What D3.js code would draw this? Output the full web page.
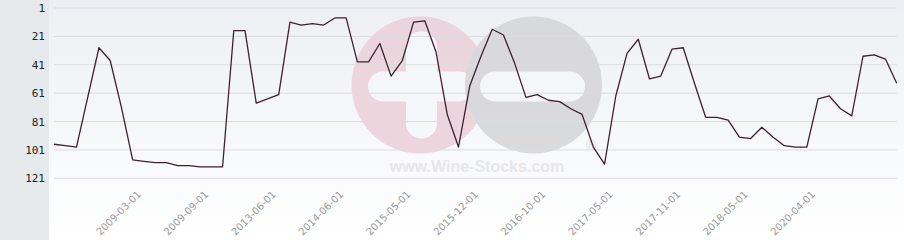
<!DOCTYPE html>
<html>
<head>
<meta charset="utf-8">
<script src="https://cdnjs.cloudflare.com/ajax/libs/d3/7.8.5/d3.min.js"></script>
<style>
    body { margin: 0; padding: 0; background: #ffffff; }
    #rank_chart_container { width: 904px; height: 240px; }
</style>
</head>
<body>
<div id="rank_chart_container"></div>
<script>

// rank of the wine, one value per point (1 = best)
var rank_values = [97, 98, 99, 64, 29, 38, 71, 108, 109, 110, 110, 112, 112, 113, 113, 113,
                   17, 17, 68, 65, 62, 11, 13, 12, 13, 8, 8, 39, 39, 26, 49, 38,
                   11, 10, 32, 76, 99, 56, 35, 16, 20, 40, 64, 62, 66, 67, 72, 76,
                   99, 111, 63, 33, 23, 51, 49, 30, 29, 54, 78, 78, 80, 92, 93, 85,
                   92, 98, 99, 99, 65, 63, 72, 77, 35, 34, 37, 54]

// labels shown on the x axis (one every 6 points, first one on point 7)
var x_tick_labels = ['2009-03-01', '2009-09-01', '2013-06-01', '2014-06-01', '2015-05-01', '2015-12-01',
                     '2016-10-01', '2017-05-01', '2017-11-01', '2018-05-01', '2020-04-01']
var first_labelled_point = 7
var label_step = 6

var y_ticks = [1, 21, 41, 61, 81, 101, 121]


function rank_chart_loader(values){

    var width = 904,
        height = 240,
        panel_width = 49

    var svg = d3.select("#rank_chart_container")
                    .append("svg")
                    .attr("width", width)
                    .attr("height", height)

    var defs = svg.append("defs")
    var grad = defs.append("linearGradient")
                    .attr("id", "plot_bg")
                    .attr("x1", 0).attr("y1", 0)
                    .attr("x2", 0).attr("y2", 1)
    grad.append("stop").attr("offset", "0%").attr("stop-color", "#edeff4")
    grad.append("stop").attr("offset", "100%").attr("stop-color", "#ffffff")

    // left grey panel behind the y labels
    svg.append("rect")
        .attr("x", 0).attr("y", 0)
        .attr("width", panel_width).attr("height", height)
        .attr("fill", "#e7eaed")

    // plot background
    svg.append("rect")
        .attr("x", panel_width).attr("y", 0)
        .attr("width", width - panel_width).attr("height", height)
        .attr("fill", "url(#plot_bg)")

    // scales
    var x = d3.scalePoint()
                .domain(d3.range(values.length))
                .range([54, 896.7])

    var y = d3.scaleLinear()
                .domain([1, 121])
                .range([8, 178.3])

    // watermark logo (plus / minus circles)
    var wm = svg.append("g").attr("opacity", 0.85)
    wm.append("circle").attr("cx", 420).attr("cy", 85).attr("r", 68.5).attr("fill", "#ebd0d9")
    wm.append("rect").attr("x", 368).attr("y", 71.5).attr("width", 106).attr("height", 30)
        .attr("rx", 15).attr("fill", "#f6f7fa")
    wm.append("rect").attr("x", 406).attr("y", 31.5).attr("width", 31).attr("height", 107)
        .attr("rx", 15).attr("fill", "#f6f7fa")
    wm.append("circle").attr("cx", 533.5).attr("cy", 85).attr("r", 68.5).attr("fill", "#d5d5d9")
    wm.append("rect").attr("x", 480).attr("y", 71.5).attr("width", 105).attr("height", 30)
        .attr("rx", 15).attr("fill", "#f6f7fa")
    wm.append("text")
        .attr("x", 477).attr("y", 172)
        .attr("text-anchor", "middle")
        .style("font-family", "'Liberation Sans', Arial, sans-serif")
        .style("font-weight", "bold")
        .style("font-size", "16px")
        .attr("fill", "#e4e4e6")
        .text("www.Wine-Stocks.com")
    wm.append("text")
        .attr("x", 591).attr("y", 150)
        .attr("text-anchor", "middle")
        .style("font-family", "'Liberation Sans', Arial, sans-serif")
        .style("font-size", "14px")
        .attr("fill", "#dadadc")
        .text("®")

    // horizontal grid
    svg.append("g")
        .selectAll("line")
        .data(y_ticks)
        .enter()
        .append("line")
            .attr("x1", x(0)).attr("x2", x(values.length - 1))
            .attr("y1", function(d){ return y(d) })
            .attr("y2", function(d){ return y(d) })
            .attr("stroke", "#dcdcdf")
            .attr("stroke-width", 1)

    // y axis, labels only
    var y_axis = svg.append("g")
                    .attr("transform", "translate(45,0)")
                    .call(d3.axisLeft(y).tickValues(y_ticks).tickSize(0).tickPadding(0))
    y_axis.select(".domain").remove()
    y_axis.selectAll("text")
        .style("font-family", "'DejaVu Sans Mono', monospace")
        .style("font-size", "11px")
        .attr("fill", "#222222")

    // x axis, rotated labels every 6 points
    var label_points = x_tick_labels.map(function(d, i){ return first_labelled_point + i * label_step })
    var x_axis = svg.append("g")
                    .attr("transform", "translate(0,195)")
                    .call(d3.axisBottom(x)
                            .tickValues(label_points)
                            .tickSize(0)
                            .tickPadding(0)
                            .tickFormat(function(d, i){ return x_tick_labels[i] }))
    x_axis.select(".domain").remove()
    x_axis.selectAll("text")
        .attr("text-anchor", "end")
        .attr("dy", 0)
        .attr("y", 0)
        .attr("transform", "translate(8.5,0) rotate(-45)")
        .style("font-family", "'DejaVu Sans', sans-serif")
        .style("font-size", "10px")
        .attr("fill", "#9a9a9a")

    // rank line
    svg.append("path")
        .datum(values)
        .attr("fill", "none")
        .attr("stroke", "#3b2232")
        .attr("stroke-width", 1.3)
        .attr("stroke-linejoin", "round")
        .attr("d", d3.line()
                        .x(function(d, i){ return x(i) })
                        .y(function(d){ return y(d) }))
}

rank_chart_loader(rank_values)

</script>
</body>
</html>
